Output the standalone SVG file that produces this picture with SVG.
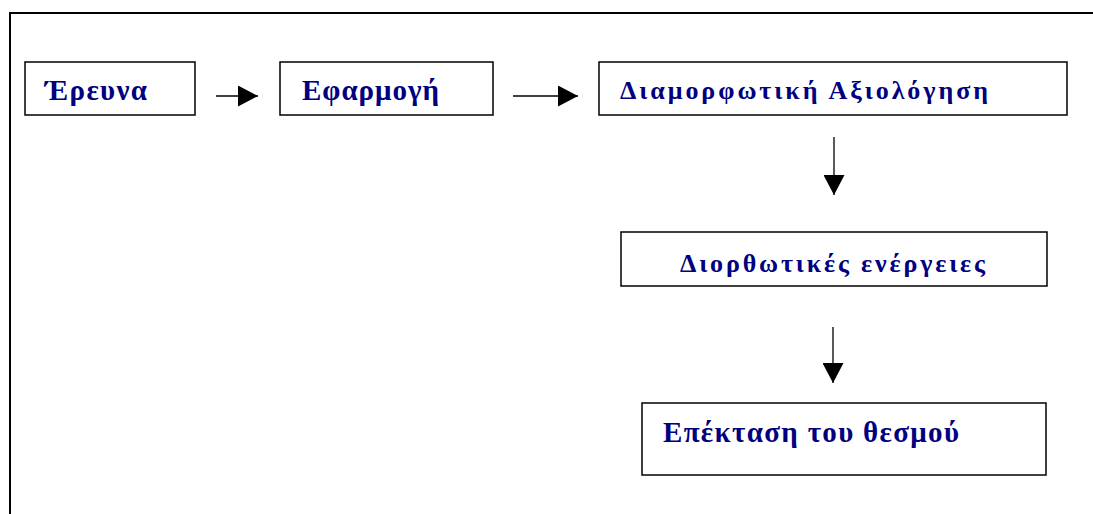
<svg xmlns="http://www.w3.org/2000/svg" width="1093" height="514" viewBox="0 0 1093 514">
<defs>
<style>
.box{fill:#fff;stroke:#000;stroke-width:1.5}
.lbl{font-family:"Liberation Serif","Times New Roman",serif;font-weight:bold;fill:#000080}
.big{font-size:29px}
.mid{font-size:26px}
.conn{stroke:#000;stroke-width:1.3;fill:none;marker-end:url(#ah)}
.frame{stroke:#000;stroke-width:2;fill:none}
</style>
<marker id="ah" markerUnits="userSpaceOnUse" markerWidth="20" markerHeight="21" refX="20" refY="10.5" orient="auto" viewBox="0 0 20 21">
<path d="M0,0 L20,10.5 L0,21 z" fill="#000"/>
</marker>
</defs>
<rect width="1093" height="514" fill="#fff"/>
<path class="frame" d="M10,514 L10,13 L1093,13"/>
<g id="n1"><rect class="box" x="25" y="62" width="170" height="53"/><text class="lbl big" x="45" y="100" textLength="102" lengthAdjust="spacing">Έρευνα</text></g>
<g id="n2"><rect class="box" x="280" y="62" width="213" height="53"/><text class="lbl big" x="302" y="100" textLength="137" lengthAdjust="spacing">Εφαρμογή</text></g>
<g id="n3"><rect class="box" x="599" y="62" width="468" height="53"/><text class="lbl mid" x="620" y="99" textLength="368" lengthAdjust="spacing">Διαμορφωτική Αξιολόγηση</text></g>
<g id="n4"><rect class="box" x="621" y="232" width="426" height="54"/><text class="lbl mid" x="680" y="272" textLength="305" lengthAdjust="spacing">Διορθωτικές ενέργειες</text></g>
<g id="n5"><rect class="box" x="642" y="403" width="404" height="72"/><text class="lbl big" x="663" y="442" textLength="296" lengthAdjust="spacing">Επέκταση του θεσμού</text></g>
<g id="connectors">
<line class="conn" x1="216" y1="96" x2="258" y2="96"/>
<line class="conn" x1="513" y1="96" x2="578" y2="96"/>
<line class="conn" x1="834" y1="137" x2="834" y2="195"/>
<line class="conn" x1="833" y1="327" x2="833" y2="383"/>
</g>
</svg>
